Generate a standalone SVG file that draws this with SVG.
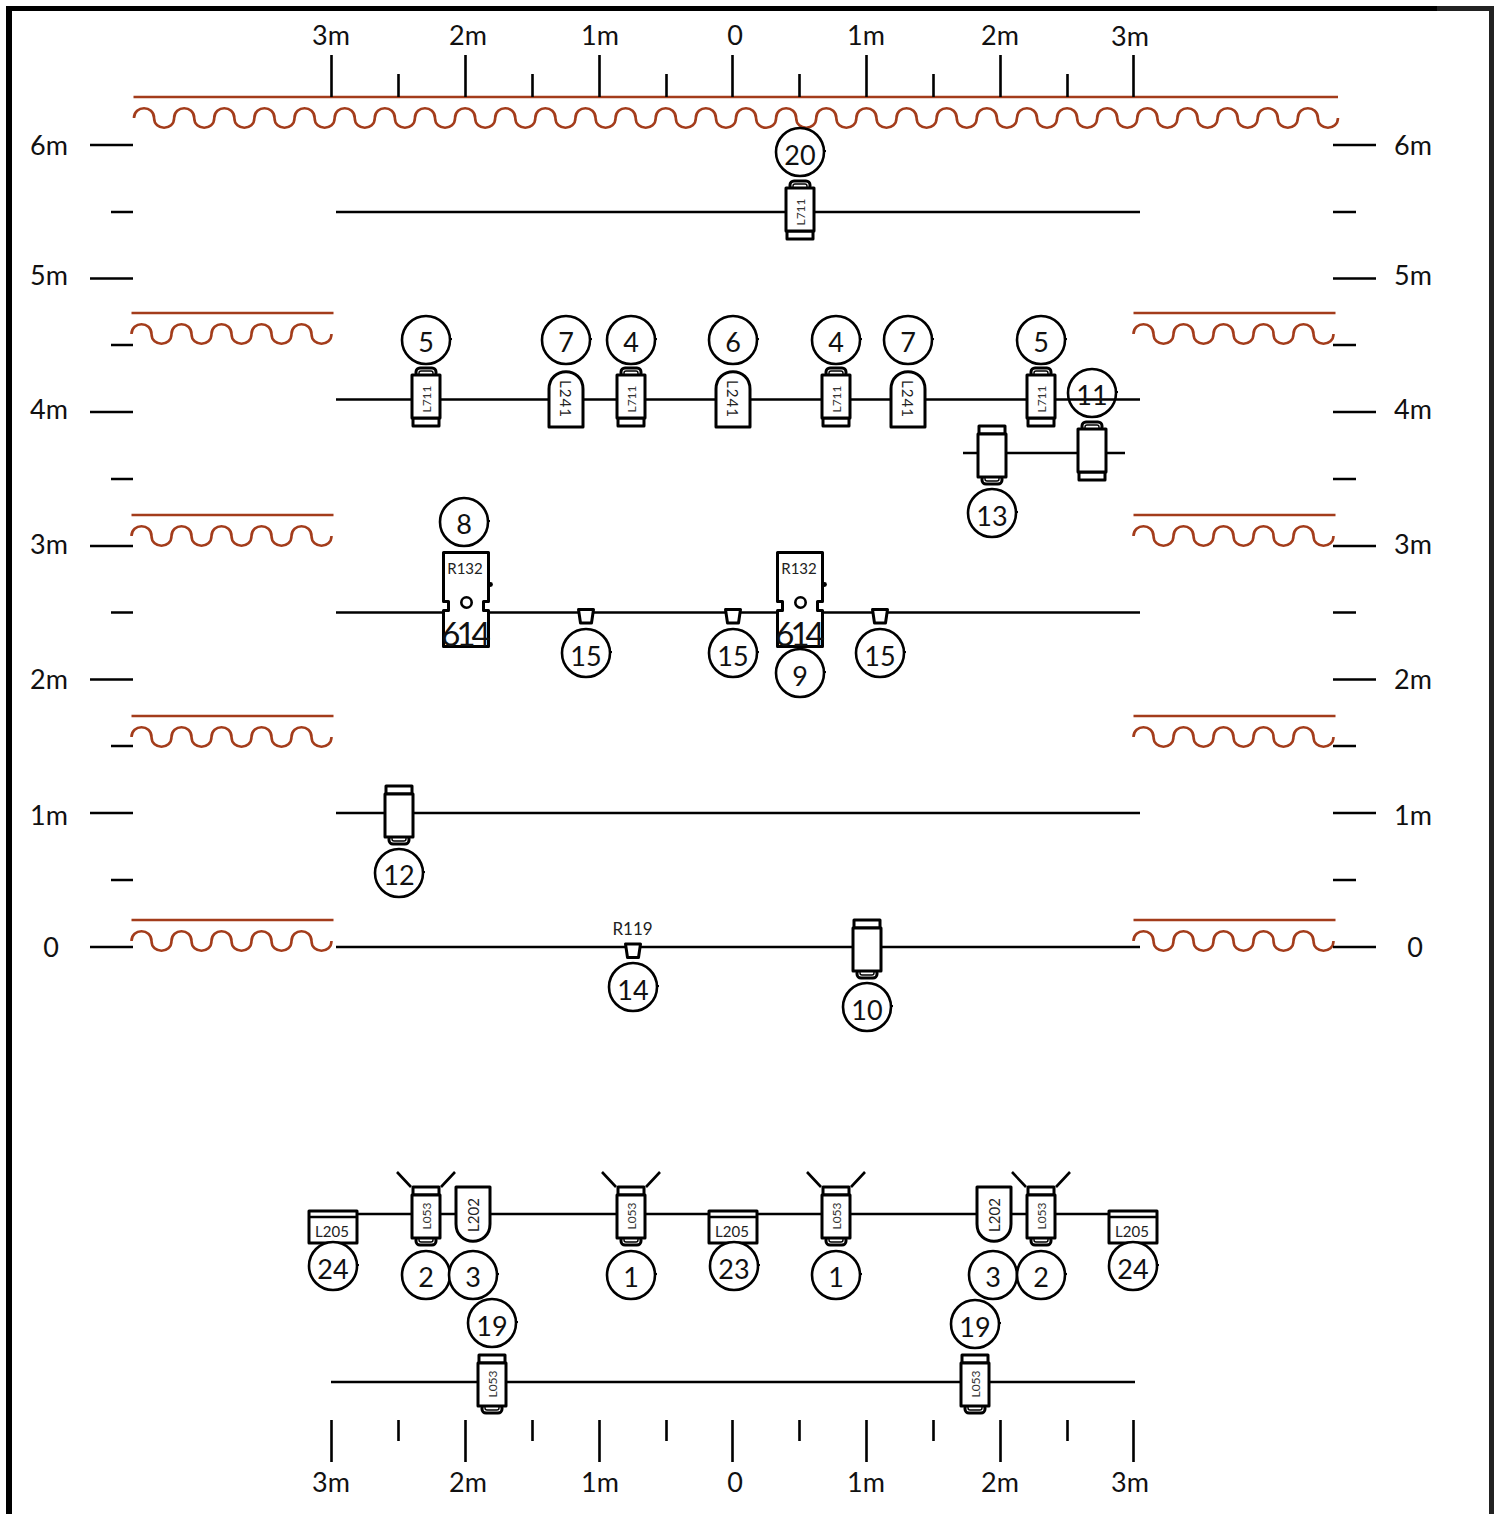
<svg xmlns="http://www.w3.org/2000/svg" xmlns:xlink="http://www.w3.org/1999/xlink" width="1502" height="1514" viewBox="0 0 1502 1514">
<style>
text{font-family:"Lato","Open Sans","Liberation Sans",sans-serif;text-anchor:middle;fill:#111}
.ax{font-size:27px}
.n{font-size:27px}
.s{font-size:12px;fill:#333}
.m{font-size:15px;fill:#222}
.lg{font-size:17px;fill:#222}
.big{font-size:33px;letter-spacing:-4px}
.l{stroke:#000;stroke-width:2.6;fill:none}
.d{stroke:#000;stroke-width:3;fill:#fff;stroke-linejoin:round}
.r{stroke:#A33C1B;stroke-width:2.6;fill:none}
.c{stroke:#000;stroke-width:2.6;fill:#fff}
</style>
<defs>
<path id="w5" class="r" d="M0 0c0-13 20-13 20 0c0 13 20 13 20 0c0-13 20-13 20 0c0 13 20 13 20 0c0-13 20-13 20 0c0 13 20 13 20 0c0-13 20-13 20 0c0 13 20 13 20 0c0-13 20-13 20 0c0 13 20 13 20 0"/>
<g id="wall"><path class="r" d="M0-21H202"/><use href="#w5"/></g>
<g id="lamp">
<rect class="d" x="-10" y="-31" width="20" height="9" rx="4"/>
<path d="M-7-24V-26Q-7-28-5-28H5Q7-28 7-26V-24" fill="none" stroke="#000" stroke-width="1.4"/>
<rect class="d" x="-13" y="19" width="26" height="8"/>
<rect class="d" x="-14" y="-24" width="28" height="43"/>
</g>
<path id="arch" class="d" d="M-17 28V-10C-17-33 17-33 17-10V28Z"/>
<path id="u" class="d" d="M-17-27V10C-17 33 17 33 17 10V-27Z"/>
<path id="trap" class="d" d="M-7.500-3H7.500L5.500 10.500H-5.500Z"/>
<g id="box"><rect class="d" x="-24" y="-3" width="48" height="32"/><path d="M-24 3H24" stroke="#000" stroke-width="2.500"/></g>
<g id="r132">
<path class="d" d="M-22-60H23V-11H18V-2H23V34H-22V-2H-17V-11H-22Z"/>
<circle cx="1" cy="-10" r="5.200" fill="#fff" stroke="#000" stroke-width="2.600"/>
<circle cx="25" cy="-28" r="2.400" fill="#000"/>
</g>
<g id="ring"><circle class="c" r="24"/><path d="M24-1h2" stroke="#000" stroke-width="2"/></g>
<g id="beam"><path class="l" d="M-15-27L-29-42M15-27L29-42"/></g>
</defs>
<rect width="1502" height="1514" fill="#fff"/>
<g id="frame">
<rect x="6" y="6" width="6" height="1508" fill="#000"/>
<rect x="6" y="6" width="1431" height="5" fill="#000"/>
<rect x="1437" y="6" width="57" height="5" fill="#222"/>
<rect x="1489" y="6" width="5" height="1508" fill="#222"/>
</g>
<g id="walls">
<path class="r" d="M133.500 97H1338"/>
<g transform="translate(134 118) scale(1.0033 1)"><use href="#w5"/><use href="#w5" x="200"/><use href="#w5" x="400"/><use href="#w5" x="600"/><use href="#w5" x="800"/><use href="#w5" x="1000"/></g>
<use href="#wall" x="131.500" y="334"/><use href="#wall" x="1133.500" y="334"/>
<use href="#wall" x="131.500" y="536"/><use href="#wall" x="1133.500" y="536"/>
<use href="#wall" x="131.500" y="737"/><use href="#wall" x="1133.500" y="737"/>
<use href="#wall" x="131.500" y="941"/><use href="#wall" x="1133.500" y="941"/>
</g>
<g id="rulers">
<path class="l" d="M331.500 55V97M465.500 55V97M599.500 55V97M732.500 55V97M866.500 55V97M1000.500 55V97M1133.500 55V97M398.500 74V97M532.500 74V97M666.500 74V97M799.500 74V97M933.500 74V97M1067.500 74V97"/>
<path class="l" d="M331.500 1420V1462M465.500 1420V1462M599.500 1420V1462M732.500 1420V1462M866.500 1420V1462M1000.500 1420V1462M1133.500 1420V1462M398.500 1420V1441M532.500 1420V1441M666.500 1420V1441M799.500 1420V1441M933.500 1420V1441M1067.500 1420V1441"/>
<path class="l" d="M90 145H133M90 278.500H133M90 412H133M90 546H133M90 679.500H133M90 813H133M90 947H133M111 212H133M111 345H133M111 479H133M111 612.500H133M111 746H133M111 880H133"/>
<path class="l" d="M1333 145H1376M1333 278.500H1376M1333 412H1376M1333 546H1376M1333 679.500H1376M1333 813H1376M1333 947H1376M1333 212H1356M1333 345H1356M1333 479H1356M1333 612.500H1356M1333 746H1356M1333 880H1356"/>
<g>
<text class="ax" x="331" y="45">3m</text><text class="ax" x="468" y="45">2m</text><text class="ax" x="600" y="45">1m</text><text class="ax" x="735" y="45">0</text><text class="ax" x="866" y="45">1m</text><text class="ax" x="1000" y="45">2m</text><text class="ax" x="1130" y="46">3m</text>
<text class="ax" x="331" y="1492">3m</text><text class="ax" x="468" y="1492">2m</text><text class="ax" x="600" y="1492">1m</text><text class="ax" x="735" y="1492">0</text><text class="ax" x="866" y="1492">1m</text><text class="ax" x="1000" y="1492">2m</text><text class="ax" x="1130" y="1492">3m</text>
<text class="ax" x="49" y="155">6m</text><text class="ax" x="49" y="285">5m</text><text class="ax" x="49" y="419">4m</text><text class="ax" x="49" y="554">3m</text><text class="ax" x="49" y="689">2m</text><text class="ax" x="49" y="825">1m</text><text class="ax" x="51" y="957">0</text>
<text class="ax" x="1413" y="155">6m</text><text class="ax" x="1413" y="285">5m</text><text class="ax" x="1413" y="419">4m</text><text class="ax" x="1413" y="554">3m</text><text class="ax" x="1413" y="689">2m</text><text class="ax" x="1413" y="825">1m</text><text class="ax" x="1415" y="957">0</text>
</g>
</g>
<g id="connectors">
<path class="l" d="M336 212H1140"/>
<path class="l" d="M336 399.500H1140"/>
<path class="l" d="M963 453H1125"/>
<path class="l" d="M336 612.500H1140"/>
<path class="l" d="M336 813H1140"/>
<path class="l" d="M336 947H1140"/>
<path class="l" d="M330 1214H1135"/>
<path class="l" d="M331 1382H1135"/>
</g>
<g id="n20"><use href="#ring" x="800" y="152"/><text class="n" x="800" y="165">20</text><use href="#lamp" x="800" y="212"/><text class="s" transform="translate(805 212) rotate(-90)">L711</text></g>
<g id="n5a"><use href="#ring" x="426" y="340"/><text class="n" x="426" y="352">5</text><use href="#lamp" x="426" y="399"/><text class="s" transform="translate(431 399) rotate(-90)">L711</text></g>
<g id="n7a"><use href="#ring" x="566" y="340"/><text class="n" x="566" y="352">7</text><use href="#arch" x="566" y="399"/><text class="m" letter-spacing="1" transform="translate(560 399) rotate(90)">L241</text></g>
<g id="n4a"><use href="#ring" x="631" y="340"/><text class="n" x="631" y="352">4</text><use href="#lamp" x="631" y="399"/><text class="s" transform="translate(636 399) rotate(-90)">L711</text></g>
<g id="n6"><use href="#ring" x="733" y="340"/><text class="n" x="733" y="352">6</text><use href="#arch" x="733" y="399"/><text class="m" letter-spacing="1" transform="translate(727 399) rotate(90)">L241</text></g>
<g id="n4b"><use href="#ring" x="836" y="340"/><text class="n" x="836" y="352">4</text><use href="#lamp" x="836" y="399"/><text class="s" transform="translate(841 399) rotate(-90)">L711</text></g>
<g id="n7b"><use href="#ring" x="908" y="340"/><text class="n" x="908" y="352">7</text><use href="#arch" x="908" y="399"/><text class="m" letter-spacing="1" transform="translate(902 399) rotate(90)">L241</text></g>
<g id="n5b"><use href="#ring" x="1041" y="340"/><text class="n" x="1041" y="352">5</text><use href="#lamp" x="1041" y="399"/><text class="s" transform="translate(1046 399) rotate(-90)">L711</text></g>
<g id="n11"><circle cx="1092" cy="393" r="24" fill="none" stroke="#000" stroke-width="2.600"/><path d="M1116 392h2" stroke="#000" stroke-width="2"/><text class="n" x="1092" y="405">11</text><use href="#lamp" x="1092" y="453"/></g>
<g id="n13"><use href="#ring" x="992" y="513"/><text class="n" x="992" y="526">13</text><use href="#lamp" transform="translate(992 453) scale(1 -1)"/></g>
<g id="n8"><use href="#ring" x="464" y="522"/><text class="n" x="464" y="534">8</text><use href="#r132" x="465.500" y="612.500"/><text class="m" x="465" y="574">R132</text><text class="big" x="464" y="646">614</text></g>
<g id="n9"><use href="#ring" x="800" y="673"/><text class="n" x="800" y="686">9</text><use href="#r132" x="799.500" y="612.500"/><text class="m" x="799" y="574">R132</text><text class="big" x="798" y="646">614</text></g>
<g id="n15a"><use href="#ring" x="586" y="653"/><text class="n" x="586" y="666">15</text><use href="#trap" x="586" y="612.500"/></g>
<g id="n15b"><use href="#ring" x="733" y="653"/><text class="n" x="733" y="666">15</text><use href="#trap" x="733" y="612.500"/></g>
<g id="n15c"><use href="#ring" x="880" y="653"/><text class="n" x="880" y="666">15</text><use href="#trap" x="880" y="612.500"/></g>
<g id="n12"><use href="#ring" x="399" y="873"/><text class="n" x="399" y="885">12</text><use href="#lamp" transform="translate(399 813) scale(1 -1)"/></g>
<g id="n14"><use href="#ring" x="633" y="987"/><text class="n" x="633" y="1000">14</text><use href="#trap" x="633" y="947"/><text class="lg" x="632.500" y="935">R119</text></g>
<g id="n10"><use href="#ring" x="867" y="1007"/><text class="n" x="867" y="1020">10</text><use href="#lamp" transform="translate(867 947) scale(1 -1)"/></g>
<g id="n2a"><use href="#ring" x="426" y="1275"/><text class="n" x="426" y="1287">2</text><use href="#beam" transform="translate(426 1214)"/><use href="#lamp" transform="translate(426 1214) scale(1 -1)"/><text class="s" transform="translate(431 1216) rotate(-90)">L053</text></g>
<g id="n3a"><use href="#ring" x="473" y="1275"/><text class="n" x="473" y="1287">3</text><use href="#u" x="473" y="1214"/><text class="m" transform="translate(479 1215) rotate(-90)">L202</text></g>
<g id="n1a"><use href="#ring" x="631" y="1275"/><text class="n" x="631" y="1287">1</text><use href="#beam" transform="translate(631 1214)"/><use href="#lamp" transform="translate(631 1214) scale(1 -1)"/><text class="s" transform="translate(636 1216) rotate(-90)">L053</text></g>
<g id="n1b"><use href="#ring" x="836" y="1275"/><text class="n" x="836" y="1287">1</text><use href="#beam" transform="translate(836 1214)"/><use href="#lamp" transform="translate(836 1214) scale(1 -1)"/><text class="s" transform="translate(841 1216) rotate(-90)">L053</text></g>
<g id="n3b"><use href="#ring" x="993" y="1275"/><text class="n" x="993" y="1287">3</text><use href="#u" x="994" y="1214"/><text class="m" transform="translate(1000 1215) rotate(-90)">L202</text></g>
<g id="n2b"><use href="#ring" x="1041" y="1275"/><text class="n" x="1041" y="1287">2</text><use href="#beam" transform="translate(1041 1214)"/><use href="#lamp" transform="translate(1041 1214) scale(1 -1)"/><text class="s" transform="translate(1046 1216) rotate(-90)">L053</text></g>
<g id="n24a"><use href="#box" x="333" y="1214"/><use href="#ring" x="333" y="1266"/><text class="n" x="333" y="1279">24</text><text class="m" x="332" y="1237">L205</text></g>
<g id="n23"><use href="#box" x="733" y="1214"/><use href="#ring" x="734" y="1266"/><text class="n" x="734" y="1279">23</text><text class="m" x="732" y="1237">L205</text></g>
<g id="n24b"><use href="#box" x="1133" y="1214"/><use href="#ring" x="1133" y="1266"/><text class="n" x="1133" y="1279">24</text><text class="m" x="1132" y="1237">L205</text></g>
<g id="n19a"><use href="#ring" x="492" y="1323"/><text class="n" x="492" y="1336">19</text><use href="#lamp" transform="translate(492 1382) scale(1 -1)"/><text class="s" transform="translate(497 1384) rotate(-90)">L053</text></g>
<g id="n19b"><use href="#ring" x="975" y="1324"/><text class="n" x="975" y="1337">19</text><use href="#lamp" transform="translate(975 1382) scale(1 -1)"/><text class="s" transform="translate(980 1384) rotate(-90)">L053</text></g>
</svg>
